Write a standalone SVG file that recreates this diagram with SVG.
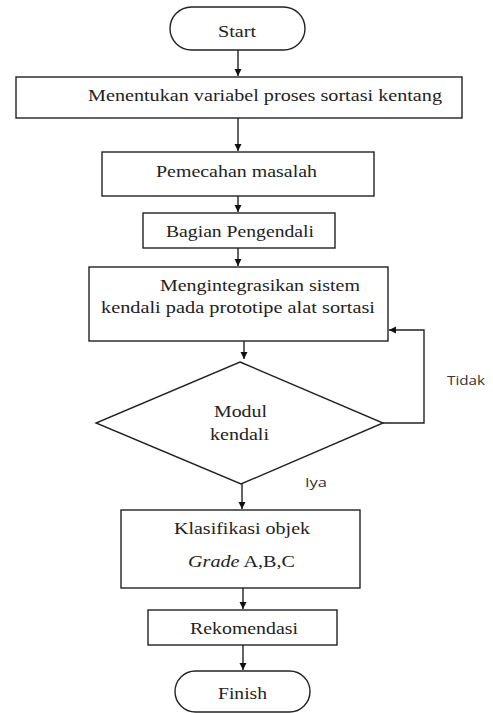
<svg xmlns="http://www.w3.org/2000/svg" width="493" height="713" viewBox="0 0 493 713">
<style>
.s{fill:#fff;stroke:#222;stroke-width:1.4}
.t{font-family:"Liberation Serif",serif;font-size:17px;fill:#222;text-anchor:middle}
.l{font-family:"Open Sans","DejaVu Sans",sans-serif;font-size:13px;fill:#333}
.c{fill:none;stroke:#222;stroke-width:1.4}
</style>
<defs>
<marker id="ah" markerWidth="8" markerHeight="8" refX="7" refY="4" orient="auto" markerUnits="userSpaceOnUse">
<path d="M0,0.5 L7,4 L0,7.5 Z" fill="#111"/>
</marker>
</defs>
<rect width="493" height="713" fill="#fff"/>
<g id="connectors">
<line class="c" x1="238" y1="50" x2="238" y2="76" marker-end="url(#ah)"/>
<line class="c" x1="238" y1="118" x2="238" y2="151" marker-end="url(#ah)"/>
<line class="c" x1="238" y1="196" x2="238" y2="212" marker-end="url(#ah)"/>
<line class="c" x1="238" y1="248" x2="238" y2="266" marker-end="url(#ah)"/>
<line class="c" x1="244" y1="341" x2="244" y2="359" marker-end="url(#ah)"/>
<polyline class="c" points="383,423 424,423 424,330 389,330" marker-end="url(#ah)"/>
<line class="c" x1="242" y1="484" x2="242" y2="509" marker-end="url(#ah)"/>
<line class="c" x1="243" y1="588" x2="243" y2="609" marker-end="url(#ah)"/>
<line class="c" x1="243" y1="645" x2="243" y2="670" marker-end="url(#ah)"/>
<text class="l" x="447" y="385" textLength="38" lengthAdjust="spacingAndGlyphs">Tidak</text>
<text class="l" x="305" y="487" textLength="22" lengthAdjust="spacingAndGlyphs">Iya</text>
</g>
<g id="start">
<rect class="s" x="170" y="7" width="135" height="43" rx="21.5"/>
<text class="t" x="237" y="37" textLength="38" lengthAdjust="spacingAndGlyphs">Start</text>
</g>
<g id="n1">
<rect class="s" x="16" y="77" width="446" height="41"/>
<text class="t" x="265" y="101" textLength="354" lengthAdjust="spacingAndGlyphs">Menentukan variabel proses sortasi kentang</text>
</g>
<g id="n2">
<rect class="s" x="102" y="152" width="272" height="44"/>
<text class="t" x="236.5" y="177" textLength="161" lengthAdjust="spacingAndGlyphs">Pemecahan masalah</text>
</g>
<g id="n3">
<rect class="s" x="143" y="213" width="192" height="35"/>
<text class="t" x="240" y="237" textLength="148" lengthAdjust="spacingAndGlyphs">Bagian Pengendali</text>
</g>
<g id="n4">
<rect class="s" x="89" y="267" width="299" height="74"/>
<text class="t" x="260" y="291" textLength="200" lengthAdjust="spacingAndGlyphs">Mengintegrasikan sistem</text>
<text class="t" x="238" y="313" textLength="274" lengthAdjust="spacingAndGlyphs">kendali pada prototipe alat sortasi</text>
</g>
<g id="decision">
<polygon class="s" points="240,362 383,423 241,484 96,423"/>
<text class="t" x="240.5" y="417" textLength="53" lengthAdjust="spacingAndGlyphs">Modul</text>
<text class="t" x="239.5" y="440" textLength="59" lengthAdjust="spacingAndGlyphs">kendali</text>
</g>
<g id="n5">
<rect class="s" x="121" y="510" width="239" height="78"/>
<text class="t" x="242" y="534" textLength="136" lengthAdjust="spacingAndGlyphs">Klasifikasi objek</text>
<text class="t" x="241.5" y="567" textLength="107" lengthAdjust="spacingAndGlyphs"><tspan font-style="italic">Grade</tspan> A,B,C</text>
</g>
<g id="n6">
<rect class="s" x="148" y="610" width="189" height="35"/>
<text class="t" x="244" y="634" textLength="108" lengthAdjust="spacingAndGlyphs">Rekomendasi</text>
</g>
<g id="finish">
<rect class="s" x="175" y="671" width="135" height="41" rx="20.5"/>
<text class="t" x="242.5" y="699" textLength="49" lengthAdjust="spacingAndGlyphs">Finish</text>
</g>
</svg>
